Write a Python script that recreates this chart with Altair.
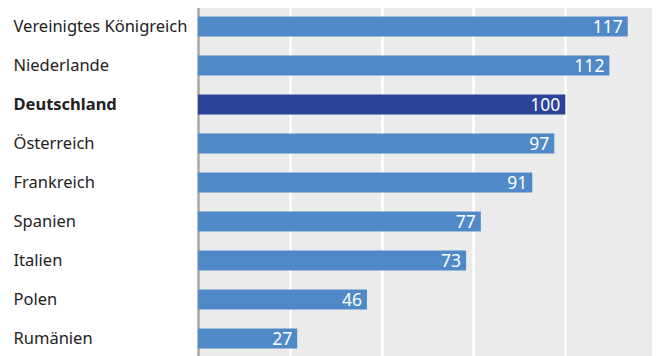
import altair as alt
import pandas as pd

countries = ["Vereinigtes Königreich", "Niederlande", "Deutschland", "Österreich",
             "Frankreich", "Spanien", "Italien", "Polen", "Rumänien"]
values = [117, 112, 100, 97, 91, 77, 73, 46, 27]
highlight = "Deutschland"
x_ticks = [0, 25, 50, 75, 100, 125]

df = pd.DataFrame({"land": countries, "wert": values})
df["hl"] = df["land"] == highlight

font = "Noto Sans"

y_enc = alt.Y("land:N", sort=countries, title=None,
              scale=alt.Scale(paddingInner=0.487, paddingOuter=0.2435),
              axis=alt.Axis(labelAlign="left", labelPadding=185, ticks=False,
                            labelFontSize=16.5, labelFont=font, labelColor="#222222",
                            labelFontWeight=alt.ExprRef("datum.value == 'Deutschland' ? 'bold' : 'normal'"),
                            domain=True, domainColor="#a6a6a6", domainWidth=2.5,
                            grid=False, labelLimit=300))
x_enc = alt.X("wert:Q", title=None, scale=alt.Scale(domain=[0, 123.6], nice=False, zero=True),
              axis=alt.Axis(values=x_ticks, labels=False, ticks=False, domain=False,
                            grid=True, gridColor="white", gridWidth=2.5))

bars = alt.Chart(df).mark_bar().encode(
    x=x_enc, y=y_enc,
    color=alt.condition("datum.hl", alt.value("#2b4399"), alt.value("#5089c8")),
)
labels = alt.Chart(df).mark_text(align="right", baseline="middle", dx=-5, dy=1,
                                 color="white", fontSize=17.5, font=font).encode(
    x=alt.X("wert:Q"), y=alt.Y("land:N", sort=countries), text="wert:Q")

chart = (bars + labels).properties(
    width=454, height=351,
    autosize=alt.AutoSizeParams(type="none"),
    padding={"left": 190, "top": -1, "right": 0, "bottom": 0},
).configure_view(fill="#ebebeb", stroke=None)

chart.save("out.html", embed_options={"renderer": "svg", "actions": False})
